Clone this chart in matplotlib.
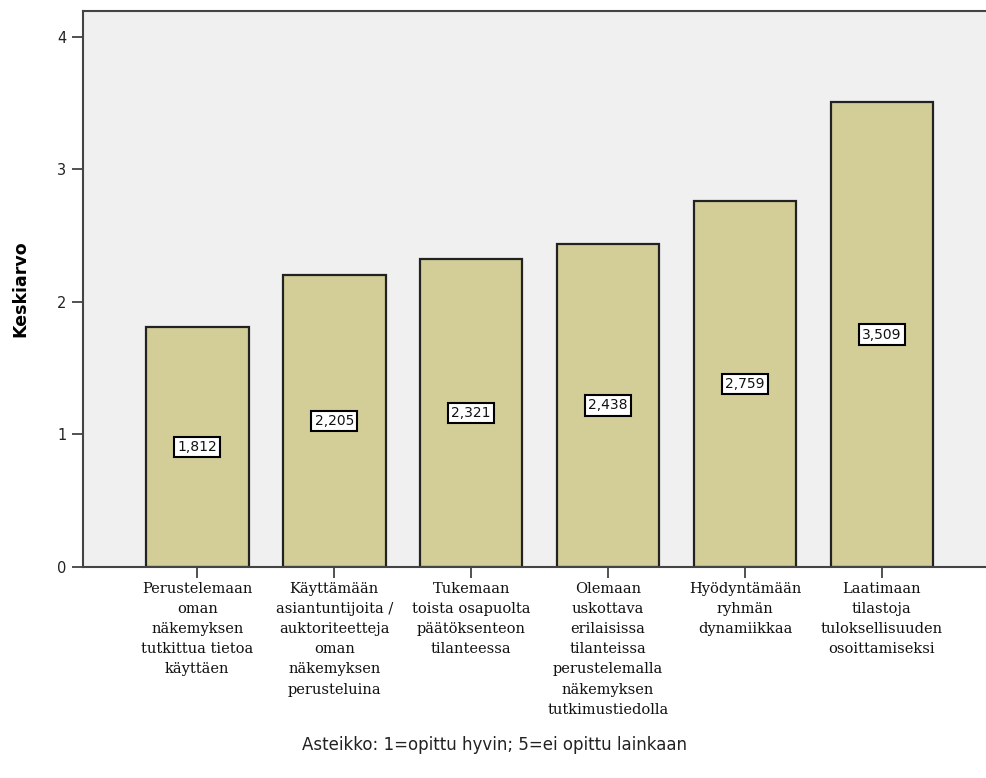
import matplotlib
matplotlib.use("Agg")
import matplotlib.pyplot as plt

categories = [
    "Perustelemaan\noman\nnäkemyksen\ntutkittua tietoa\nkäyttäen",
    "Käyttämään\nasiantuntijoita /\nauktoriteetteja\noman\nnäkemyksen\nperusteluina",
    "Tukemaan\ntoista osapuolta\npäätöksenteon\ntilanteessa",
    "Olemaan\nuskottava\nerilaisissa\ntilanteissa\nperustelemalla\nnäkemyksen\ntutkimustiedolla",
    "Hyödyntämään\nryhmän\ndynamiikkaa",
    "Laatimaan\ntilastoja\ntuloksellisuuden\nosoittamiseksi",
]
means = [1.812, 2.205, 2.321, 2.438, 2.759, 3.509]
y_ticks = [0, 1, 2, 3, 4]

fig = plt.figure(figsize=(9.87, 7.78), dpi=100)
ax = fig.add_axes([83 / 987, 1 - 567 / 778, 1 - 83 / 987 + 0.01, (567 - 11) / 778])
ax.set_facecolor("#F0F0F0")

x = list(range(len(means)))
ax.bar(x, means, width=0.75, color="#D3CE98", edgecolor="#222222", linewidth=1.6, zorder=2)

for xi, v in zip(x, means):
    ax.text(xi, v / 2, f"{v:.3f}".replace(".", ","), ha="center", va="center",
            fontsize=10, family="DejaVu Sans", color="#111111", zorder=3,
            bbox=dict(boxstyle="square,pad=0.22", facecolor="white",
                      edgecolor="black", linewidth=1.5))

ax.set_xlim(-0.835, 5.84)
ax.set_ylim(0, 4.196)
ax.set_yticks(y_ticks)
ax.set_yticklabels([str(t) for t in y_ticks], fontsize=10.5, color="#222222")
ax.set_xticks(x)
ax.set_xticklabels(categories, fontsize=10.5, family="DejaVu Serif",
                   linespacing=1.55, va="top", color="#111111")

ax.tick_params(axis="both", direction="out", length=8, width=1.2, color="#333333")
ax.tick_params(axis="y", pad=4)
ax.tick_params(axis="x", pad=3)

for side in ["left", "top", "bottom"]:
    ax.spines[side].set_linewidth(1.5)
    ax.spines[side].set_color("#444444")
ax.spines["right"].set_visible(False)

ax.set_ylabel("Keskiarvo", fontsize=12.5, fontweight="bold", labelpad=20)
fig.text(495 / 987, 1 - 745 / 778,
         "Asteikko: 1=opittu hyvin; 5=ei opittu lainkaan",
         ha="center", va="center", fontsize=12, color="#222222")

fig.savefig("out.png", dpi=100)
